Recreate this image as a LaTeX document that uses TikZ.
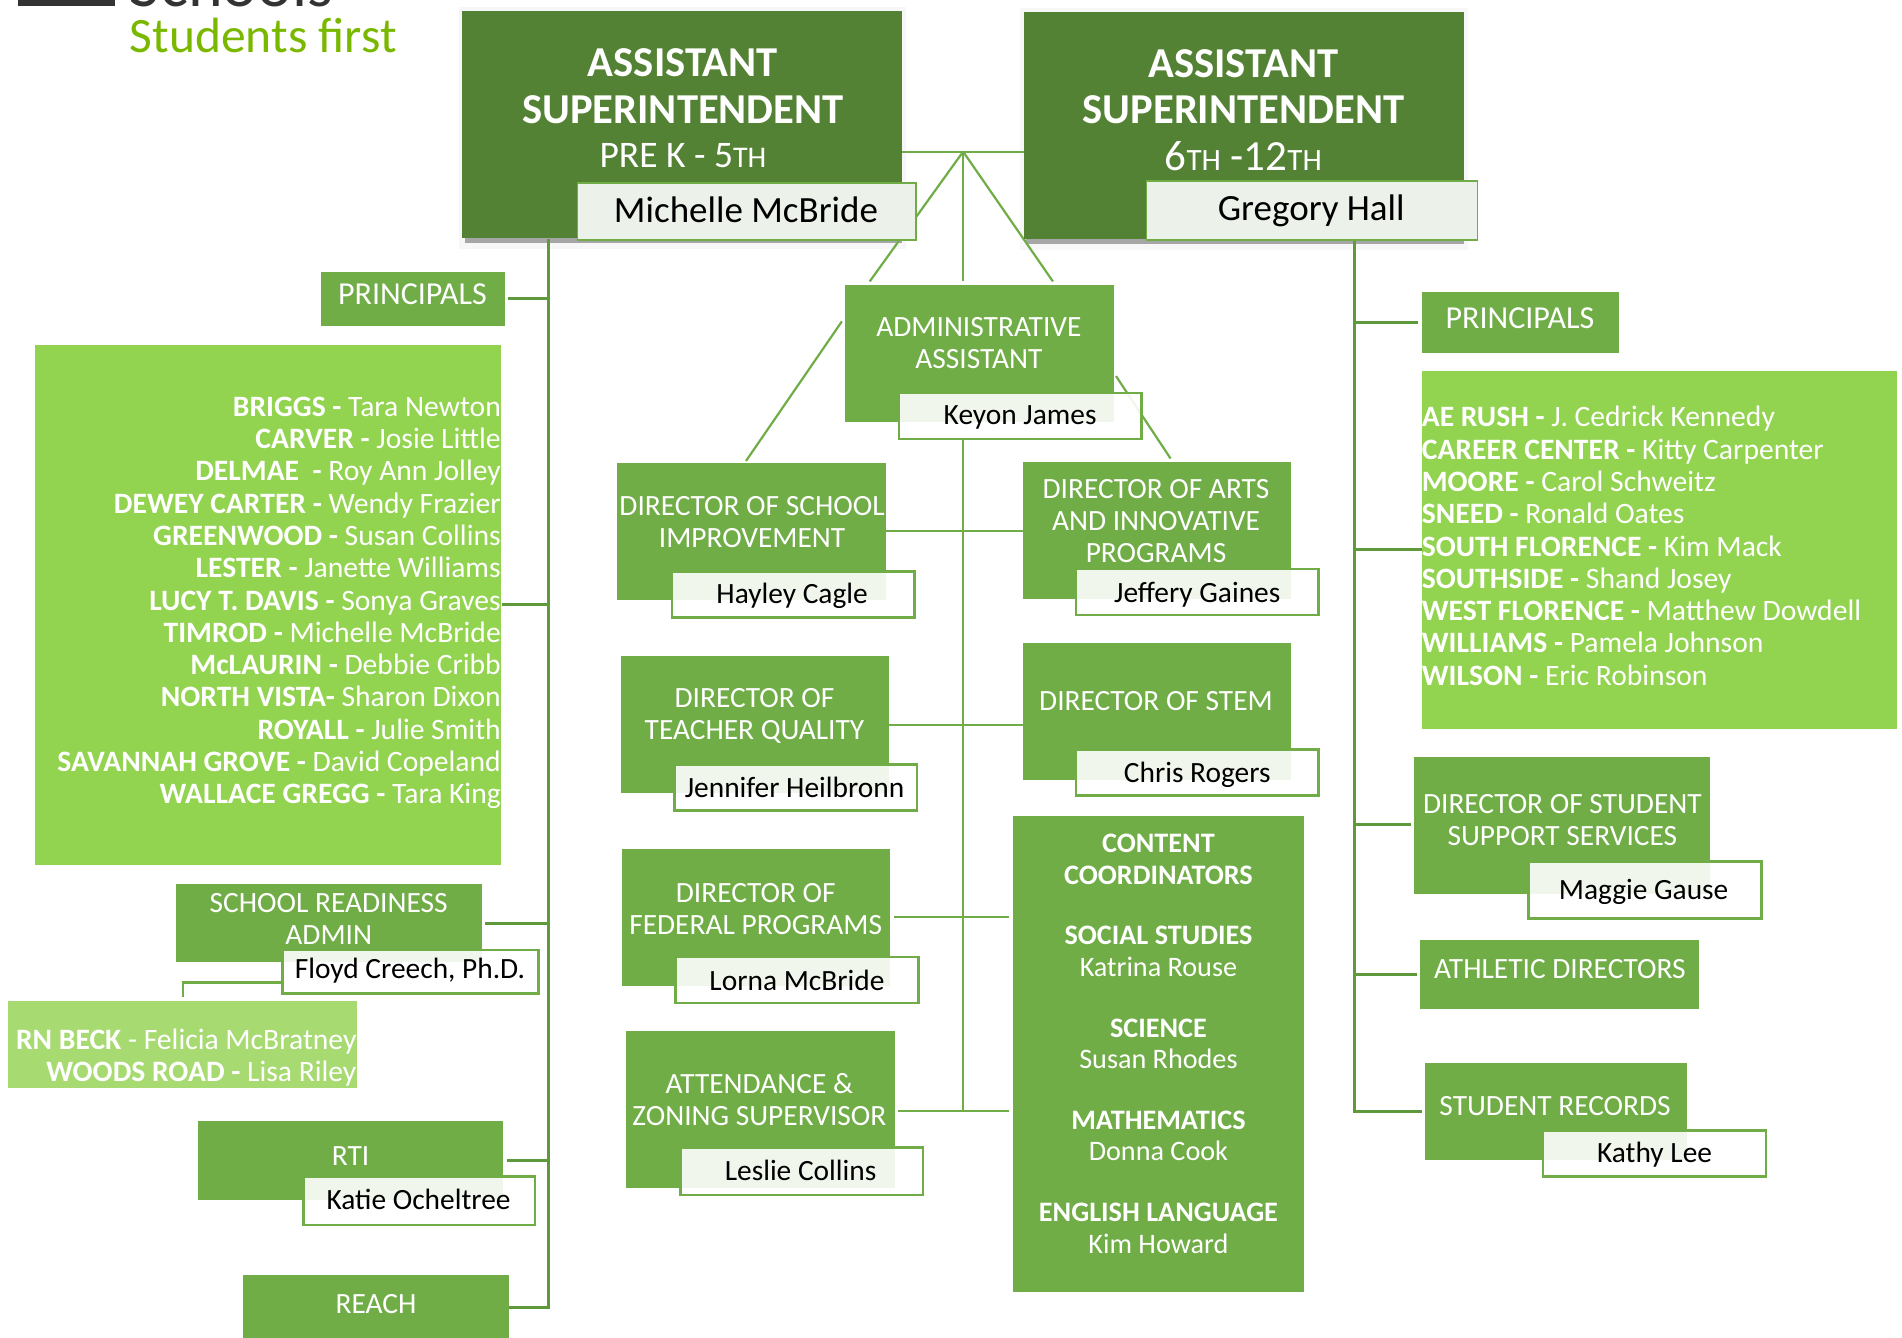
\documentclass[tikz,border=0pt]{standalone}
\usepackage{fontspec}
\setmainfont{Carlito}
\pgfdeclarelayer{bg}
\pgfsetlayers{bg,main}
\definecolor{gdark}{HTML}{548235}
\definecolor{gmid}{HTML}{70AD47}
\definecolor{glight}{HTML}{92D350}
\definecolor{gpale}{HTML}{A7DB72}
\definecolor{gname}{HTML}{ECF1EA}
\definecolor{glogo}{HTML}{7AB800}
\definecolor{gline}{HTML}{5E9A3C}
\newcommand{\fz}[2]{\fontsize{#1}{#2}\selectfont}
\newcommand{\gb}[6]{\node[#1,anchor=north west,minimum width={(#5-#3)*1.213pt},minimum height={(#6-#4)*1.213pt}] (#2) at (#3,#4) {};}
\newcommand{\tx}[5]{\node[#4] (#1) at (#2,#3) {#5};}
\tikzset{
 x=1.213pt,y=-1.213pt,
 bxbase/.style={inner sep=0pt,outer sep=0pt,draw=none},
 bxdark/.style={bxbase,fill=gdark},
 bxmid/.style={bxbase,fill=gmid},
 bxlight/.style={bxbase,fill=glight},
 bxpale/.style={bxbase,fill=gpale},
 bxname/.style={inner sep=0pt,outer sep=0pt,draw=gmid,line width=2.6pt,fill=white,fill opacity=.9},
 bxnametop/.style={inner sep=0pt,outer sep=0pt,draw=gmid,line width=1.6pt,fill=gname},
 wtxt/.style={text=white,inner sep=0pt,align=center,font=\fz{29.4}{32.4}},
 btxt/.style={text=black,inner sep=0pt,align=center,font=\fz{29.4}{33}},
 lst/.style={text=white,inner sep=0pt,font=\fz{29.6}{32.3}},
 conn/.style={draw=gmid,line width=2.2pt},
 trunk/.style={draw=gline,line width=3pt},
}
\begin{document}
\begin{tikzpicture}
\useasboundingbox (0,0) rectangle (1568,1103);
\clip (0,0) rectangle (1568,1103);
% logo
\gb{bxbase,fill=black!80}{logoblock}{15}{-5}{95}{5}
\node[anchor=base west,inner sep=0pt,text=black!80,font=\fz{66}{70}] (logoa) at (107,5) {Schools};
\node[anchor=base west,inner sep=0pt,text=glogo,font=\fz{49.5}{54}] (logob) at (107,43) {Students first};
% senior boxes
\gb{bxdark}{asa}{381}{9}{744}{196}
\gb{bxdark}{asb}{844}{10}{1207}{197}
\tx{asat}{563}{89}{wtxt,font=\fz{42.6}{46.5}}{\textbf{ASSISTANT}\\\textbf{SUPERINTENDENT}\\[-2.5pt]{\fz{37.5}{40}PRE K - 5{\fz{30}{40}TH}}}
\tx{asbt}{1025}{90.5}{wtxt,font=\fz{42.6}{46.5}}{\textbf{ASSISTANT}\\\textbf{SUPERINTENDENT}\\[0pt]{\fz{43}{40}6{\fz{31}{40}TH} -12{\fz{31}{40}TH}}}
\gb{bxnametop}{nma}{476}{151}{755}{198}
\gb{bxnametop}{nmb}{945}{149}{1218}{198}
\tx{nmat}{615}{173}{btxt,font=\fz{37}{40}}{Michelle McBride}
\tx{nmbt}{1081}{174}{btxt,font=\fz{37}{40}}{Gregory Hall}
% left column
\gb{bxmid}{prl}{265}{224}{416}{269}
\tx{prlt}{340}{242.5}{wtxt,font=\fz{32}{36}}{PRINCIPALS}
\gb{bxlight}{lsl}{29}{284}{413}{713}
\tx{lslt}{413}{497}{lst,align=right,anchor=east}{\textbf{BRIGGS -} Tara Newton\\\textbf{CARVER -} Josie Little\\\textbf{DELMAE\ \ -} Roy Ann Jolley\\\textbf{DEWEY CARTER -} Wendy Frazier\\\textbf{GREENWOOD -} Susan Collins\\\textbf{LESTER -} Janette Williams\\\textbf{LUCY T. DAVIS -} Sonya Graves\\\textbf{TIMROD -} Michelle McBride\\\textbf{McLAURIN -} Debbie Cribb\\\textbf{NORTH VISTA-} Sharon Dixon\\\textbf{ROYALL -} Julie Smith\\\textbf{SAVANNAH GROVE -} David Copeland\\\textbf{WALLACE GREGG -} Tara King}
\gb{bxmid}{srd}{145}{729}{397}{793}
\tx{srdt}{271}{757.5}{wtxt}{SCHOOL READINESS\\ADMIN}
\gb{bxname}{nmfl}{233}{783}{444}{819}
\tx{nmflt}{338}{800}{btxt}{Floyd Creech, Ph.D.}
\gb{bxpale}{rnb}{7}{825}{294}{897}
\tx{rnbt}{294}{872}{lst,align=right,anchor=east}{\textbf{RN BECK} - Felicia McBratney\\\textbf{WOODS ROAD -} Lisa Riley}
\gb{bxmid}{rti}{163}{924}{415}{989}
\tx{rtit}{289}{953}{wtxt}{RTI}
\gb{bxname}{nmka}{250}{970}{441}{1010}
\tx{nmkat}{345}{989}{btxt}{Katie Ocheltree}
\gb{bxmid}{rch}{200}{1051}{420}{1110}
\tx{rcht}{310}{1075}{wtxt}{REACH}
% centre column
\gb{bxmid}{adm}{697}{235}{918}{348}
\tx{admt}{807}{283}{wtxt}{ADMINISTRATIVE\\ASSISTANT}
\gb{bxname}{nmke}{741}{324}{941}{362}
\tx{nmket}{841}{344}{btxt}{Keyon James}
\gb{bxmid}{dsi}{509}{382}{730}{495}
\tx{dsit}{620}{430.5}{wtxt}{DIRECTOR OF SCHOOL\\IMPROVEMENT}
\gb{bxname}{nmha}{554}{471}{754}{509}
\tx{nmhat}{653}{491}{btxt}{Hayley Cagle}
\gb{bxmid}{dtq}{512}{541}{733}{654}
\tx{dtqt}{622}{590}{wtxt}{DIRECTOR OF\\TEACHER QUALITY}
\gb{bxname}{nmje}{556}{630}{756}{668}
\tx{nmjet}{655}{649}{btxt}{Jennifer Heilbronn}
\gb{bxmid}{dfp}{513}{700}{734}{813}
\tx{dfpt}{623}{749.5}{wtxt}{DIRECTOR OF\\FEDERAL PROGRAMS}
\gb{bxname}{nmlo}{557}{789}{757}{827}
\tx{nmlot}{657}{808}{btxt}{Lorna McBride}
\gb{bxmid}{azs}{516}{850}{738}{979}
\tx{azst}{626}{906.5}{wtxt}{ATTENDANCE \&\\ZONING SUPERVISOR}
\gb{bxname}{nmle}{561}{946}{761}{985}
\tx{nmlet}{660}{965}{btxt}{Leslie Collins}
\gb{bxmid}{dai}{843}{381}{1064}{494}
\tx{dait}{953}{429.5}{wtxt}{DIRECTOR OF ARTS\\AND INNOVATIVE\\PROGRAMS}
\gb{bxname}{nmjf}{887}{469}{1087}{507}
\tx{nmjft}{987}{490}{btxt}{Jeffery Gaines}
\gb{bxmid}{stm}{843}{530}{1064}{643}
\tx{stmt}{953}{578}{wtxt}{DIRECTOR OF STEM}
\gb{bxname}{nmch}{887}{618}{1087}{656}
\tx{nmcht}{987}{639}{btxt}{Chris Rogers}
\gb{bxmid}{cnt}{835}{673}{1075}{1065}
\tx{cntt}{955}{860.5}{wtxt,font=\fz{28.2}{31.6}}{\textbf{CONTENT}\\\textbf{COORDINATORS}\\[29pt]\textbf{SOCIAL STUDIES}\\Katrina Rouse\\[29pt]\textbf{SCIENCE}\\Susan Rhodes\\[29pt]\textbf{MATHEMATICS}\\Donna Cook\\[29pt]\textbf{ENGLISH LANGUAGE}\\Kim Howard}
% right column
\gb{bxmid}{prr}{1172}{241}{1335}{291}
\tx{prrt}{1253}{262}{wtxt,font=\fz{32}{36}}{PRINCIPALS}
\gb{bxlight}{lsr}{1172}{306}{1564}{601}
\tx{lsrt}{1172}{450}{lst,align=left,anchor=west}{\textbf{AE RUSH -} J. Cedrick Kennedy\\\textbf{CAREER CENTER -} Kitty Carpenter\\\textbf{MOORE -} Carol Schweitz\\\textbf{SNEED -} Ronald Oates\\\textbf{SOUTH FLORENCE -} Kim Mack\\\textbf{SOUTHSIDE -} Shand Josey\\\textbf{WEST FLORENCE -} Matthew Dowdell\\\textbf{WILLIAMS -} Pamela Johnson\\\textbf{WILSON -} Eric Robinson}
\gb{bxmid}{dss}{1166}{624}{1410}{737}
\tx{dsst}{1288}{676}{wtxt}{DIRECTOR OF STUDENT\\SUPPORT SERVICES}
\gb{bxname}{nmma}{1260}{710}{1452}{757}
\tx{nmmat}{1355}{735}{btxt}{Maggie Gause}
\gb{bxmid}{ath}{1171}{775}{1401}{832}
\tx{atht}{1286}{799}{wtxt}{ATHLETIC DIRECTORS}
\gb{bxmid}{rec}{1175}{876}{1391}{956}
\tx{rect}{1282}{912}{wtxt}{STUDENT RECORDS}
\gb{bxname}{nmkh}{1272}{932}{1456}{970}
\tx{nmkht}{1364}{952}{btxt}{Kathy Lee}
% connectors
\coordinate (hub) at (794,125);
\coordinate (tl) at (452,197);
\coordinate (tr) at (1117,198);
\coordinate (dla) at (717,232);
\coordinate (dlb) at (694,265);
\coordinate (dlc) at (615,380);
\coordinate (dra) at (868,232);
\coordinate (drb) at (920,310);
\coordinate (drc) at (965,378);
\coordinate (fla) at (151,810);
\coordinate (flb) at (151,822);
\coordinate (hubb) at (794,232);
\coordinate (hubc) at (794,916);
\begin{pgfonlayer}{bg}
\gb{bxbase,fill=black!3}{shao}{378}{6}{747}{205}
\gb{bxbase,fill=black!3}{shat}{841}{7}{1210}{206}
\gb{bxbase,fill=black!35}{shaa}{383}{190}{744}{200}
\gb{bxbase,fill=black!35}{shab}{846}{191}{1207}{201}
\draw[conn] (asa.east |- hub) -- (asb.west |- hub);
\draw[conn] (hub) -- (dla);
\draw[conn] (dlb) -- (dlc);
\draw[conn] (hub) -- (dra);
\draw[conn] (drb) -- (drc);
\draw[conn] (hub) -- (hubb);
\draw[conn] (nmke.south -| hub) -- (hubc);
\draw[conn] (730,438) -- (dai.west |- 0,438);
\draw[conn] (dtq.east |- 0,598) -- (stm.west |- 0,598);
\draw[conn] (737,756) -- (832,756);
\draw[conn,line width=1.4pt] (740,916) -- (832,916);
\draw[trunk] (tl) -- (452,1078) -- (rch.east |- 0,1078);
\draw[trunk] (419,246) -- (tl |- 0,246);
\draw[trunk] (414,498) -- (tl |- 0,498);
\draw[trunk] (400,761) -- (tl |- 0,761);
\draw[trunk] (418,957) -- (tl |- 0,957);
\draw[trunk] (tr) -- (1117,916) -- (1172,916);
\draw[trunk] (tr |- 0,266) -- (1169,266);
\draw[trunk] (tr |- 0,453) -- (lsr.west |- 0,453);
\draw[trunk] (tr |- 0,680) -- (1163,680);
\draw[trunk] (tr |- 0,803) -- (1168,803);
\draw[conn] (nmfl.west |- fla) -- (fla) -- (flb);
\end{pgfonlayer}
\end{tikzpicture}
\end{document}
